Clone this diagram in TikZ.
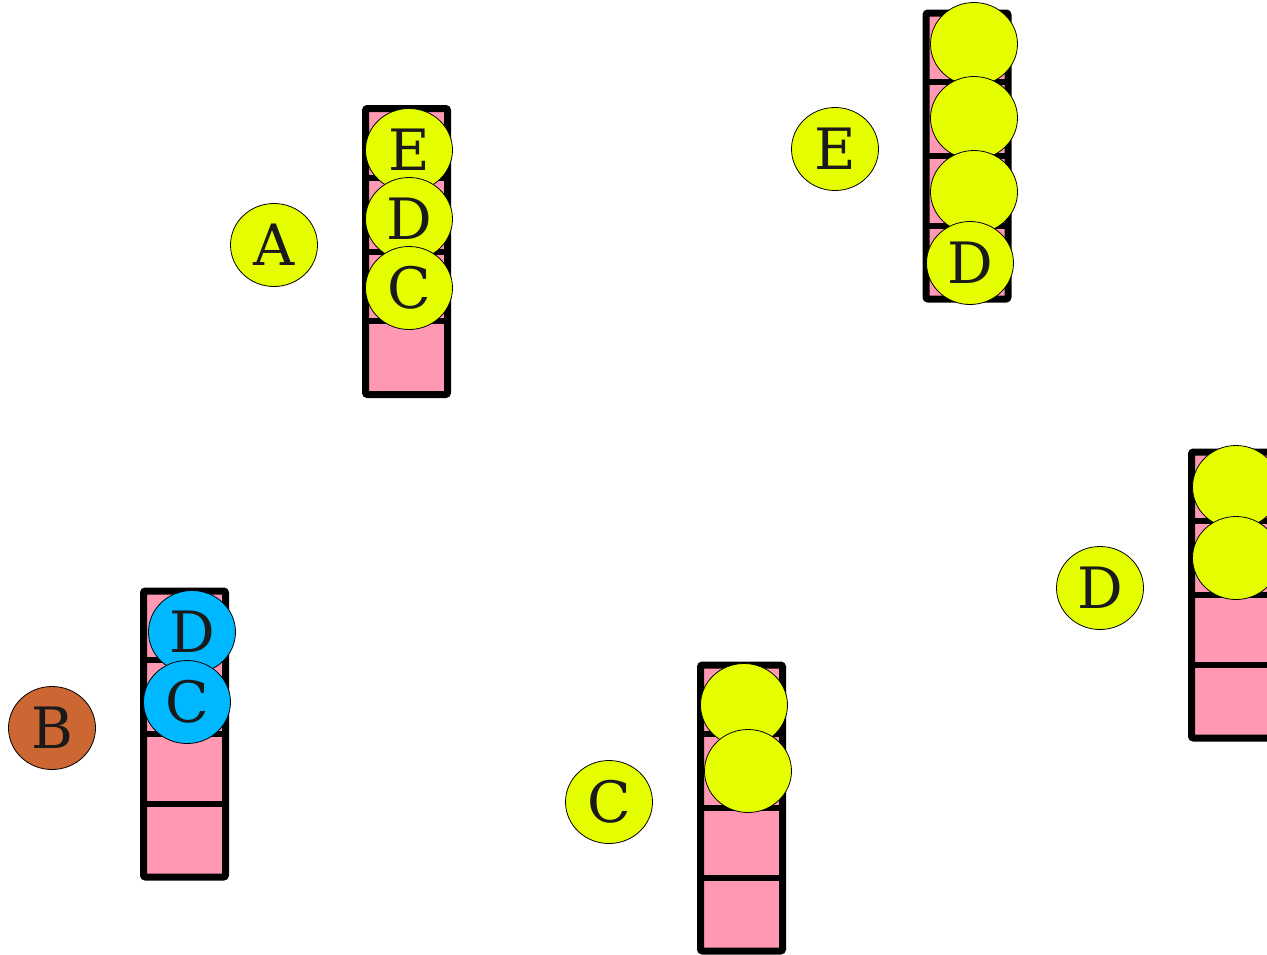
\documentclass[tikz,border=0pt]{standalone}
\usepackage{fontspec}
\setmainfont{DejaVu Serif}
\usetikzlibrary{shapes.geometric,positioning}

\definecolor{ballyellow}{HTML}{E5FF00}
\definecolor{cellpink}{HTML}{FF99B3}
\definecolor{ballblue}{HTML}{00B8FF}
\definecolor{ballbrown}{HTML}{CC6633}
\definecolor{lettergray}{HTML}{1A1A1A}

\begin{document}
\begin{tikzpicture}[
        x=1pt, y=-1pt,
        frame/.style={
            draw=black,
            fill=cellpink,
            line width=7pt,
            rounded corners=2pt
        },
        divider/.style={draw=black, line width=6pt},
        ball/.style={
            draw=black,
            ellipse,
            line width=0.8pt,
            fill=ballyellow,
            minimum width=87pt,
            minimum height=83pt,
            inner sep=0pt,
            text=lettergray,
            font=\fontsize{57}{57}\selectfont
        },
        blueball/.style={ball, fill=ballblue},
        brownball/.style={ball, fill=ballbrown}
    ]
        % -- Rama obrazu --
        \clip (0,0) rectangle (1267,954);

        % -- Stosy (komorki) --
        \foreach \sx/\sy in {362/105, 922.5/9.5, 140/587.5, 697/661.5, 1188/448.5} {
            \draw[frame] (\sx+3.5,\sy+3.5) rectangle (\sx+85.5,\sy+289.5);
            \foreach \dy in {72.5,146.5,216}
                \draw[divider] (\sx+3.5,\sy+\dy) -- (\sx+85.5,\sy+\dy);
        }

        % Stos 1
        \node [ball] (s1e) at (409,150) {E};
        \node [ball] (s1d) at (409,219) {D};
        \node [ball] (s1c) at (409,288) {C};
        \node [ball] (a) at (274,245) {A};

        % Stos 2
        \node [ball] (s2a) at (974,44) {};
        \node [ball] (s2b) at (974,118) {};
        \node [ball] (s2c) at (974,192) {};
        \node [ball] (s2d) at (970,263) {D};
        \node [ball] (e) at (835,149) {E};

        % Stos 3
        \node [blueball] (s3d) at (192,632) {D};
        \node [blueball] (s3c) at (187,702) {C};
        \node [brownball] (b) at (52,728) {B};

        % Stos 4
        \node [ball] (s4a) at (744,705) {};
        \node [ball] (s4b) at (748,771) {};
        \node [ball] (c) at (609,802) {C};

        % Stos 5
        \node [ball] (s5a) at (1236,487) {};
        \node [ball] (s5b) at (1236,558) {};
        \node [ball] (d) at (1100,588) {D};

    \end{tikzpicture}
\end{document}
